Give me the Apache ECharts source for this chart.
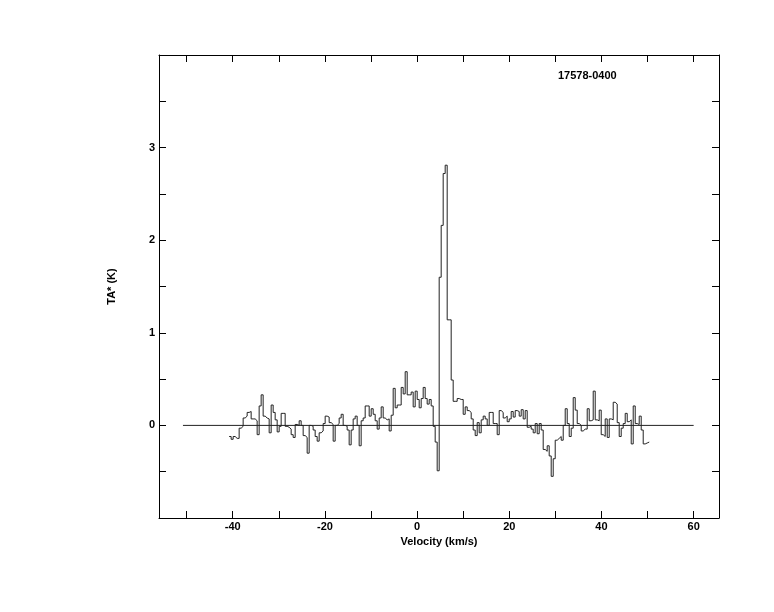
<!DOCTYPE html>
<html><head><meta charset="utf-8">
<script src="https://cdn.jsdelivr.net/npm/echarts@6/dist/echarts.min.js"></script>
<style>html,body{margin:0;padding:0;background:#fff}#c{width:774px;height:612px}</style>
</head><body><div id="c"></div><script>
const chartTitle = '17578-0400';
const xAxisName = 'Velocity (km/s)';
const yAxisName = 'TA* (K)';
// spectral channel grid (left edge of first channel, channel width), km/s
const velocityStart = -40.78;
const channelWidth = 0.434;
// antenna temperature per channel (K)
const antennaTemp = [
-0.12,-0.15,-0.12,-0.14,-0.14,-0.03,-0.01,0.08,0.10,0.14,
0.15,0.07,0.07,0.05,-0.10,0.21,0.33,0.10,0.08,0.07,
-0.08,0.22,0.14,0.06,-0.07,-0.01,0.13,0.13,-0.01,-0.02,
-0.04,-0.10,-0.13,0.01,0.00,0.05,
0.00,-0.11,-0.13,-0.30,0.00,-0.01,-0.05,-0.12,-0.17,-0.08,
-0.06,0.02,0.10,0.09,0.03,0.01,-0.17,0.00,0.02,0.08,
0.12,0.00,-0.01,-0.05,-0.21,-0.05,0.07,0.10,0.00,-0.22,
0.05,0.08,0.21,0.21,0.10,0.18,0.12,
0.05,-0.04,0.08,0.20,0.08,0.06,0.07,-0.06,0.11,0.40,
0.19,0.22,0.22,0.41,0.34,0.58,0.33,0.33,0.36,0.20,
0.37,0.28,0.19,0.29,0.41,0.29,0.23,0.28,0.21,-0.01,-0.18,
-0.49,1.60,2.16,2.72,2.81,1.14,1.14,
0.49,
0.26,0.26,0.29,0.28,0.28,0.12,0.20,0.16,0.14,0.07,
-0.05,-0.11,0.03,-0.08,0.06,0.10,0.07,0.00,0.14,0.14,
0.02,0.02,-0.10,0.16,0.14,0.08,0.10,0.04,0.07,0.15,
0.09,0.16,0.15,0.10,0.17,0.07,0.16,-0.02,-0.01,-0.04,
-0.08,0.02,-0.09,0.02,-0.05,-0.26,-0.28,-0.22,-0.33,-0.55,
-0.36,-0.16,-0.14,-0.12,-0.16,0.00,0.18,0.02,-0.12,
-0.03,0.30,0.165,0.02,0.00,-0.06,-0.04,-0.04,0.18,0.05,
0.06,0.37,0.06,0.05,0.165,-0.10,-0.12,0.07,-0.13,0.07,
0.06,0.25,0.23,0.03,-0.12,-0.03,0.02,0.13,0.04,0.06,
-0.20,0.21,0.02,0.01,0.10,-0.05,-0.20,-0.19,-0.18
];
const xTickValues = [-50,-40,-30,-20,-10,0,10,20,30,40,50,60];
const xLabelValues = [-40,-20,0,20,40,60];
const yTickValues = [-0.5,0,0.5,1,1.5,2,2.5,3,3.5];
const yLabelValues = [0,1,2,3];
const baselineRange = [-50.8, 60];
const xRange = [-56, 65.5];
const yRange = [-1, 4];

const stepData = antennaTemp.map((t, i) => [velocityStart + i * channelWidth, t]);
stepData.push([velocityStart + antennaTemp.length * channelWidth, antennaTemp[antennaTemp.length - 1]]);
const baselineData = baselineRange.map(v => [v, 0]);

const FONT = 'Liberation Sans';
const lineCol = '#000';
function xAx(pos, labels) {
  return {
    type: 'value', position: pos, min: xRange[0], max: xRange[1],
    name: labels ? xAxisName : '', nameLocation: 'middle', nameGap: 12,
    nameTextStyle: { fontFamily: FONT, fontWeight: 'bold', fontSize: 11, color: '#000' },
    axisLine: { show: true, onZero: false, lineStyle: { color: lineCol, width: 1 } },
    axisTick: { show: true, inside: true, length: 7, customValues: xTickValues, lineStyle: { color: lineCol, width: 1 } },
    axisLabel: { show: labels, customValues: xLabelValues, margin: 3, fontFamily: FONT, fontWeight: 'bold', fontSize: 11, color: '#000' },
    splitLine: { show: false }
  };
}
function yAx(pos, labels) {
  return {
    type: 'value', position: pos, min: yRange[0], max: yRange[1],
    name: labels ? yAxisName : '', nameLocation: 'middle', nameGap: 42,
    nameTextStyle: { fontFamily: FONT, fontWeight: 'bold', fontSize: 11, color: '#000' },
    axisLine: { show: true, onZero: false, lineStyle: { color: lineCol, width: 1 } },
    axisTick: { show: true, inside: true, length: 7, customValues: yTickValues, lineStyle: { color: lineCol, width: 1 } },
    axisLabel: { show: labels, customValues: yLabelValues, margin: 4, fontFamily: FONT, fontWeight: 'bold', fontSize: 11, color: '#000' },
    splitLine: { show: false }
  };
}
const chart = echarts.init(document.getElementById('c'), null, { renderer: 'canvas' });
chart.setOption({
  animation: false,
  backgroundColor: '#fff',
  title: { text: chartTitle, left: 558, top: 70, textStyle: { fontFamily: FONT, fontWeight: 'bold', fontSize: 11, color: '#000' }, padding: 0 },
  grid: { left: 159, right: 55, top: 55, bottom: 94, containLabel: false },
  xAxis: [xAx('bottom', true), xAx('top', false)],
  yAxis: [yAx('left', true), yAx('right', false)],
  series: [
    { type: 'line', data: baselineData, showSymbol: false, lineStyle: { color: '#222', width: 1 }, silent: true },
    { type: 'line', data: stepData, step: 'end', showSymbol: false, lineStyle: { color: '#222', width: 1 }, silent: true }
  ]
});
</script></body></html>
